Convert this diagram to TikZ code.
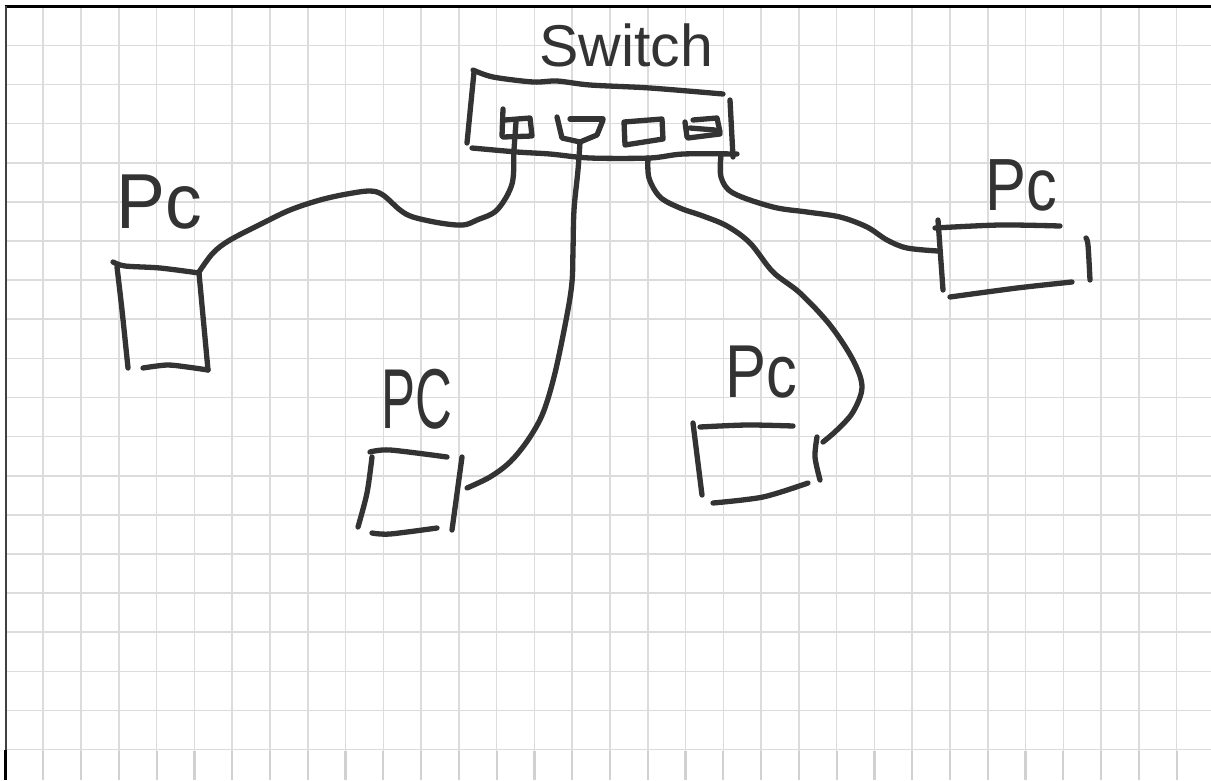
\documentclass[tikz,border=0pt]{standalone}
\usepackage{graphicx}
\usepackage{fontspec}
\setmainfont{Liberation Sans}
\definecolor{ink}{HTML}{333333}
\definecolor{gridc}{HTML}{DCDCDC}
\tikzset{
  gridline/.style={draw=gridc, line width=1.6pt},
  pen/.style={draw=ink, line width=5.3pt, line cap=round, line join=round},
  cable/.style={pen, smooth, tension=0.55},
  lbl/.style={text=ink, inner sep=0pt, anchor=base west}
}
\begin{document}
\begin{tikzpicture}[x=1pt,y=-1pt]
\useasboundingbox (0,0) rectangle (1211,780);
\fill[white] (0,0) rectangle (1211,780);
% grid paper
\foreach \k in {1,...,31} \draw[gridline] ({5.5+37.78*\k},6) -- ({5.5+37.78*\k},780);
\foreach \k in {1,...,31} \draw[gridline, line width=2.2pt, draw=gridc!95!black] ({5.5+37.78*\k},751) -- ({5.5+37.78*\k},780);
\foreach \j in {1,...,19} \draw[gridline] (5,{6.2+39.13*\j}) -- (1211,{6.2+39.13*\j});
\draw[black, line width=2.6pt] (4.5,6.5) -- (1211,6.5);
\draw[black!75, line width=2pt] (5.5,6) -- (5.5,750);
\draw[black, line width=2.6pt] (5.5,750) -- (5.5,780);

% labels
\node[lbl, font=\fontsize{59}{59}\selectfont] (lsw) at (539,66) {Switch};
\node[lbl, font=\fontsize{78}{78}\selectfont] (l1) at (116,228) {\scalebox{0.94}[1]{Pc}};
\node[lbl, font=\fontsize{85}{85}\selectfont] (l2) at (381,428) {\scalebox{0.6}[1]{PC}};
\node[lbl, font=\fontsize{75}{75}\selectfont] (l3) at (725,397) {\scalebox{0.82}[1]{Pc}};
\node[lbl, font=\fontsize{74}{74}\selectfont] (l4) at (985,210) {\scalebox{0.83}[1]{Pc}};

% switch body
\draw[pen] plot[smooth, tension=0.5] coordinates {(473,70) (493,77) (533,82) (557,81) (590,85) (650,88) (723,94)};
\draw[pen] (474,72) -- (467,143);
\draw[pen] plot[smooth, tension=0.5] coordinates {(472,148) (517,152) (550,154) (590,158) (650,158) (683,154) (737,154)};
\draw[pen] (730,100) -- (733,157);
% ports
\draw[pen] (503,109) -- (502,136);
\draw[pen] (505,120) -- (530,118) -- (532,136) -- (503,137);
\draw[pen] (557,117) -- (562,138) -- (580,142) -- (597,135) -- (603,120);
\draw[pen] (570,119) -- (603,119);
\draw[pen] (624,122) -- (662,119) -- (663,139) -- (625,145) -- cycle;
\draw[pen] (685,122) -- (687,137);
\draw[pen] (693,120) -- (717,118) -- (720,132);
\draw[pen] (690,128) -- (715,130);
\draw[pen] (688,138) -- (720,134);

\coordinate (s1) at (516,122);
\coordinate (s2) at (580,142);
\coordinate (s3) at (648,158);
\coordinate (s4) at (721,155);

% PC 1
\coordinate (p1) at (199,272);
\draw[pen] plot[smooth, tension=0.5] coordinates {(113,262) (125,266) (160,268) (199,273)};
\draw[pen] plot[smooth, tension=0.5] coordinates {(117,267) (122,310) (128,368)};
\draw[pen] (199,273) -- (208,370);
\draw[pen] plot[smooth, tension=0.5] coordinates {(143,368) (167,365) (187,367) (208,370)};
% PC 2
\coordinate (p2) at (467,488);
\draw[pen] plot[smooth, tension=0.5] coordinates {(370,452) (390,450) (447,457)};
\draw[pen] plot[smooth, tension=0.5] coordinates {(372,457) (367,493) (358,527)};
\draw[pen] plot[smooth, tension=0.5] coordinates {(372,533) (390,534) (437,528)};
\draw[pen] (462,457) -- (452,530);
% PC 3
\coordinate (p3) at (823,442);
\draw[pen] plot[smooth, tension=0.5] coordinates {(700,427) (747,425) (793,426)};
\draw[pen] (693,423) -- (702,495);
\draw[pen] plot[smooth, tension=0.5] coordinates {(713,503) (763,497) (808,483)};
\draw[pen] plot[smooth, tension=0.5] coordinates {(817,437) (815,457) (820,480)};
% PC 4
\coordinate (p4) at (938,251);
\draw[pen] plot[smooth, tension=0.5] coordinates {(935,228) (1000,225) (1060,226)};
\draw[pen] (938,220) -- (943,290);
\draw[pen] plot[smooth, tension=0.5] coordinates {(950,297) (1017,288) (1072,282)};
\draw[pen] plot[smooth, tension=0.5] coordinates {(1086,238) (1088,245) (1090,280)};

% cables
\draw[cable] plot coordinates {(s1) (514,150) (512,184) (497,210) (477,220) (463,225) (440,223) (413,217) (400,210) (383,195) (370,191) (347,194) (320,200) (290,210) (263,223) (230,240) (213,253) (p1)};
\draw[cable] plot coordinates {(s2) (578,170) (574,210) (573,250) (572,282) (567,315) (555,373) (543,413) (528,440) (510,462) (490,477) (p2)};
\draw[cable] plot coordinates {(s3) (649,178) (660,197) (680,208) (703,216) (727,226) (750,243) (773,272) (800,293) (830,325) (853,360) (862,387) (853,412) (837,430) (p3)};
\draw[cable] plot coordinates {(s4) (721,177) (733,193) (773,207) (807,212) (840,217) (867,227) (887,240) (907,248) (p4)};
\end{tikzpicture}
\end{document}
